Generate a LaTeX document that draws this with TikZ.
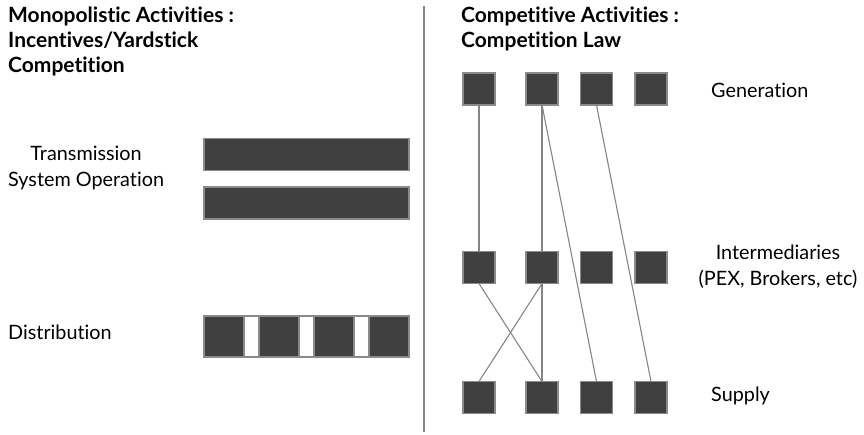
\documentclass[tikz,border=0pt]{standalone}
\usepackage{fontspec}
\setmainfont[Ligatures=NoCommon]{Lato}
\definecolor{boxfill}{HTML}{404040}
\definecolor{boxline}{HTML}{8A8A8A}
\definecolor{wire}{HTML}{858585}
\begin{document}
\begin{tikzpicture}[x=1pt,y=-1pt,
  blk/.style={draw=boxline, fill=boxfill, line width=1.3pt, minimum width=32pt, minimum height=32pt, inner sep=0pt, outer sep=0pt},
  bar/.style={draw=boxline, fill=boxfill, line width=1.3pt, minimum width=205pt, minimum height=32pt, inner sep=0pt, outer sep=0pt},
  seg/.style={draw=boxline, fill=boxfill, line width=1.3pt, minimum width=40pt, minimum height=41pt, inner sep=0pt, outer sep=0pt},
  wirel/.style={draw=wire, line width=1.1pt},
  title/.style={font=\bfseries\fontsize{21}{25}\selectfont, align=left, inner sep=0pt},
  lbl/.style={font=\fontsize{19.8}{26}\selectfont, inner sep=0pt}
]
\useasboundingbox (0,0) rectangle (864,434);
% divider
\draw[wirel] (424,6) coordinate (dtop) -- (424,432) coordinate (dbot);
% titles
\node[title, anchor=north west] (tleft) at (8,7) {Monopolistic Activities :\\Incentives/Yardstick\\Competition};
\node[title, anchor=north west] (tright) at (461,7) {Competitive Activities :\\Competition Law};
% left side
\node[lbl, align=center, anchor=west] (ltrans) at (8,168) {Transmission\\System Operation};
\node[lbl, anchor=west] (ldist) at (8,332) {Distribution};
\node[bar] (bar1) at (306.5,154.5) {};
\node[bar] (bar2) at (306.5,203) {};
\node[draw=boxline, fill=white, line width=1.3pt, minimum width=205pt, minimum height=41pt, inner sep=0pt] (dbar) at (306.5,336.5) {};
\node[seg] (d1) at (224,336.5) {};
\node[seg] (d2) at (279,336.5) {};
\node[seg] (d3) at (334,336.5) {};
\node[seg] (d4) at (389,336.5) {};
% right side blocks
\foreach \i/\x in {1/479,2/542,3/596.5,4/651}{
  \node[blk] (g\i) at (\x,89) {};
  \node[blk] (m\i) at (\x,267.5) {};
  \node[blk] (s\i) at (\x,397.5) {};
}
\node[lbl, anchor=west] (lgen) at (711,90) {Generation};
\node[lbl, align=center] (linter) at (778,267) {Intermediaries\\(PEX, Brokers, etc)};
\node[lbl, anchor=west] (lsup) at (711,396) {Supply};
% connectors
\draw[wirel] (g1.south) -- (m1.north);
\draw[wirel] (g2.south) -- (m2.north);
\draw[wirel] (g2.south) -- (s3.north);
\draw[wirel] (g3.south) -- (s4.north);
\draw[wirel] (m1.south) -- (s2.north);
\draw[wirel] (m2.south) -- (s1.north);
\draw[wirel] (m2.south) -- (s2.north);
\end{tikzpicture}
\end{document}
